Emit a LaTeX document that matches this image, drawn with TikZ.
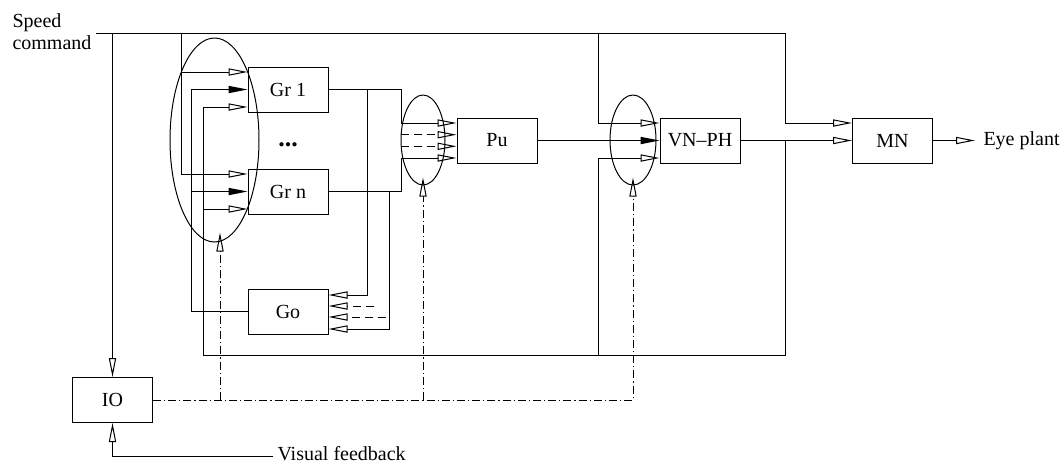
\documentclass[tikz,border=0pt]{standalone}
\usepackage{fontspec}
\setmainfont{Liberation Serif}
\usetikzlibrary{arrows.meta, positioning, shapes.geometric, calc}

\begin{document}
\begin{tikzpicture}[
    x=0.5pt, y=-0.5pt,
    font=\rmfamily\fontsize{10}{11.25}\selectfont,
    line width=0.5pt,
    blk/.style={
        draw, rectangle, inner sep=0pt,
        minimum width=40pt, minimum height=22.5pt,
    },
    grp/.style={draw, ellipse, inner sep=0pt},
    oarr/.style={-{Triangle[open, length=9.5pt, width=3.6pt]}},
    farr/.style={-{Triangle[length=9.5pt, width=3.6pt]}},
    dsh/.style={dash pattern=on 4pt off 2.5pt},
    ddot/.style={dash pattern=on 4pt off 1.5pt on 0.6pt off 1.5pt},
]
\useasboundingbox (0,0) rectangle (1062,463);

% blocks
\node[blk] (gr1) at (288,89.5) {Gr 1};
\node[blk, below=28pt of gr1] (grn) {Gr n};
\node[blk, below=37pt of grn] (go) {Go};
\node[blk] (pu) at (497,140.5) {Pu};
\node[blk] (vnph) at (700,140.5) {VN--PH};
\node[blk] (mn) at (892.5,140.5) {MN};
\node[blk] (io) at (112.5,400) {IO};
\node[font=\rmfamily\bfseries\fontsize{13}{13}\selectfont] (dots) at ($(gr1)!0.5!(grn)+(0,4)$) {...};

% group ellipses
\node[grp, minimum width=44.5pt, minimum height=102pt] (ellg) at (214.5,140) {};
\node[grp, minimum width=22pt, minimum height=45pt] (ellp) at (423,140) {};
\node[grp, minimum width=23pt, minimum height=45pt] (ellv) at (633,140) {};

% speed command line
\node[anchor=north west, align=left, inner sep=0pt] (spd) at (12,13) {Speed\\command};
\coordinate (sc) at (96,33);
\coordinate (ja) at (181,33);
\coordinate (jb) at (598,33);
\coordinate (tr) at (785,33);
\draw (sc) -- (tr);
\draw[oarr] (io.north |- sc) -- (io.north);
\draw[oarr] (ja) |- ([yshift=8.75pt]gr1.west);
\draw[oarr] (ja) |- ([yshift=8.75pt]grn.west);
\draw[oarr] (jb) |- ([yshift=8.75pt]vnph.west);
\draw[oarr] (tr) |- ([yshift=8.75pt]mn.west);

% Go back to the Gr blocks
\draw[farr] (go.west) -- ([xshift=-28pt]go.west) |- (gr1.west);
\draw[farr] ([xshift=-28pt]go.west) |- (grn.west);

% loop from the VN-PH output
\coordinate (fl) at (203,355);
\coordinate (fm) at (598,355);
\coordinate (fr) at (785,355);
\draw (tr |- vnph) -- (fr) -- (fl);
\draw[oarr] (fl) |- ([yshift=-8.75pt]gr1.west);
\draw[oarr] (fl) |- ([yshift=-8.75pt]grn.west);
\draw[oarr] (fm) |- ([yshift=-8.75pt]vnph.west);

% Gr outputs to Pu
\draw[oarr] (gr1.east) -- ++(73,0) |- ([yshift=8.75pt]pu.west);
\draw[oarr] (grn.east) -- ++(73,0) |- ([yshift=-8.75pt]pu.west);
\draw[oarr, dsh] ([xshift=-28pt, yshift=2.9pt]pu.west) -- ([yshift=2.9pt]pu.west);
\draw[oarr, dsh] ([xshift=-28pt, yshift=-2.9pt]pu.west) -- ([yshift=-2.9pt]pu.west);

% Gr outputs to Go
\draw[oarr] ([xshift=19.5pt]gr1.east) |- ([yshift=8.25pt]go.east);
\draw[oarr] ([xshift=30.5pt]grn.east) |- ([yshift=-8.75pt]go.east);
\draw[oarr, dsh] ([xshift=22.5pt, yshift=2.75pt]go.east) -- ([yshift=2.75pt]go.east);
\draw[oarr, dsh] ([xshift=28.5pt, yshift=-2.75pt]go.east) -- ([yshift=-2.75pt]go.east);

% main chain
\draw[farr] (pu) -- (vnph);
\draw[oarr] (vnph) -- (mn);
\node[anchor=west, inner xsep=4pt, inner ysep=0pt] (eye) at (975,140.5) {Eye plant};
\draw[oarr] (mn) -- (eye);

% visual feedback
\node[anchor=base west, inner xsep=2pt, inner ysep=0pt] (vfb) at (273,460) {Visual feedback};
\draw[oarr] ([yshift=2pt]vfb.base west) -| (io.south);
\coordinate (tg) at ([xshift=2.75pt, yshift=5pt]ellg.south);
\draw[oarr, ddot] (io.east) -| ([yshift=4pt]ellv.south);
\draw[oarr, ddot] (io.east -| ellp.south) -- ([yshift=4pt]ellp.south);
\draw[oarr, ddot] (io.east -| tg) -- (tg);
\end{tikzpicture}
\end{document}
